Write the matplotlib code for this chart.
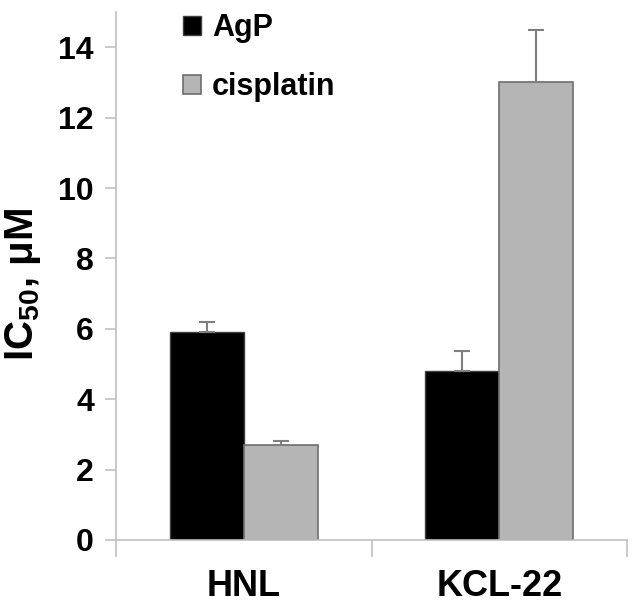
import numpy as np
import matplotlib.pyplot as plt

plt.rcParams['font.family'] = ['Liberation Sans', 'DejaVu Sans']
plt.rcParams['font.weight'] = 'bold'
plt.rcParams['mathtext.fontset'] = 'custom'
plt.rcParams['mathtext.rm'] = 'Liberation Sans:bold'
plt.rcParams['mathtext.bf'] = 'Liberation Sans:bold'

# Data
cells = ['HNL', 'KCL-22']
agp = [5.9, 4.8]
agp_err = [0.28, 0.57]
cisplatin = [2.7, 13.0]
cisplatin_err = [0.11, 1.5]

x = np.arange(len(cells))
width = 0.29

fig = plt.figure(figsize=(6.35, 6.07), dpi=100)
ax = fig.add_axes([0.1827, 0.1104, 0.8047, 0.8698])

err_kw = dict(ecolor='#7f7f7f', elinewidth=1.5, capsize=5.5, capthick=1.5)
ax.bar(x - width / 2, agp, width, color='black', edgecolor='#404040',
       linewidth=1, label='AgP',
       yerr=[np.zeros(2), agp_err], error_kw=err_kw)
ax.bar(x + width / 2, cisplatin, width, color='#b5b5b5', edgecolor='#6e6e6e',
       linewidth=1.2, label='cisplatin',
       yerr=[np.zeros(2), cisplatin_err], error_kw=err_kw)

ax.set_xlim(-0.5, 1.5)
ax.set_ylim(0, 15)
ax.set_yticks(np.arange(0, 15, 2))
ax.set_xticks([-0.5, 0.5, 1.5])
ax.set_xticklabels([])
ax.set_xticks(x, minor=True)
ax.set_xticklabels(cells, minor=True, fontsize=26, fontweight='bold')
ax.tick_params(axis='x', which='minor', length=0, pad=21)
ax.tick_params(axis='x', which='major', length=12, width=1.2, color='#c0c0c0')
ax.tick_params(axis='y', length=8, width=1.2, color='#c0c0c0', labelsize=23, pad=8)
for lab in ax.get_yticklabels():
    lab.set_fontweight('bold')

for s in ['top', 'right']:
    ax.spines[s].set_visible(False)
for s in ['left', 'bottom']:
    ax.spines[s].set_color('#c0c0c0')
    ax.spines[s].set_linewidth(1.2)

fig.text(23 / 635, 1 - 285 / 607, 'IC$_{\\mathbf{50}}$, μM', fontsize=29,
         fontweight='bold', rotation=90, ha='center', va='center')

ax.legend(loc='upper left', bbox_to_anchor=(0.131, 0.998), frameon=False,
          prop={'family': 'Liberation Sans', 'weight': 'bold', 'size': 22},
          handlelength=0.6, handleheight=0.6,
          handletextpad=0.35, labelspacing=0.95, borderpad=0,
          borderaxespad=0)

fig.savefig('out.png', dpi=100)
